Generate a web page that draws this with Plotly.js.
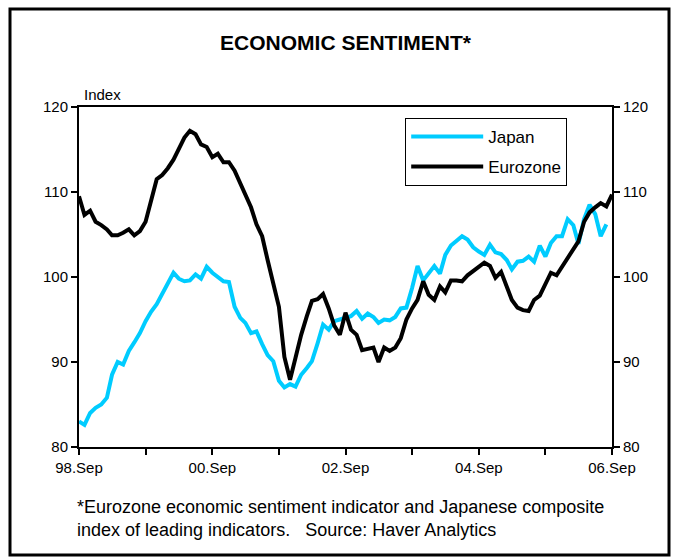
<!DOCTYPE html>
<html>
<head>
<meta charset="utf-8">
<script src="https://cdn.plot.ly/plotly-3.0.1.min.js"></script>
<style>
html,body{margin:0;padding:0;background:#fff;}
#chart{width:678px;height:557px;}
</style>
</head>
<body>
<div id="chart"></div>
<script>
// Monthly observations, Sep 1998 onward
var startYear = 1998, startMonth = 9;
var japan = [
  83.0, 82.6, 84.0, 84.6, 85.0, 85.8, 88.5, 90.0, 89.7, 91.3,
  92.3, 93.4, 94.8, 95.9, 96.8, 98.0, 99.4, 100.5, 99.8, 99.5,
  99.6, 100.3, 99.8, 101.2, 100.5, 100.0, 99.5, 99.4, 96.5, 95.2,
  94.6, 93.4, 93.6, 92.1, 90.8, 90.1, 87.8, 87.0, 87.4, 87.1,
  88.5, 89.3, 90.1, 92.2, 94.4, 93.8, 94.8, 95.0, 95.2, 95.4,
  96.0, 95.1, 95.7, 95.3, 94.6, 95.0, 94.9, 95.3, 96.3, 96.4,
  98.7, 101.3, 99.6, 100.5, 101.3, 100.4, 102.6, 103.7, 104.3, 104.8,
  104.4, 103.5, 103.0, 102.6, 103.8, 102.9, 102.7, 102.0, 100.9, 101.8,
  101.9, 102.4, 101.8, 103.7, 102.4, 104.0, 104.8, 104.8, 106.8, 106.1,
  103.9, 106.8, 108.5, 107.4, 104.8, 106.2
];
var eurozone = [
  109.5, 107.3, 107.8, 106.5, 106.1, 105.6, 104.9, 104.9, 105.2, 105.6,
  104.9, 105.4, 106.5, 109.2, 111.5, 112.0, 112.8, 113.8, 115.0, 116.4,
  117.2, 116.8, 115.6, 115.3, 114.1, 114.5, 113.5, 113.5, 112.5, 111.0,
  109.5, 108.2, 106.2, 104.8, 102.0, 99.0, 96.5, 90.6, 87.9, 90.5,
  93.2, 95.4, 97.2, 97.4, 98.0, 96.3, 94.3, 93.2, 95.8, 93.8,
  93.2, 91.4, 91.5, 91.7, 90.0, 91.7, 91.3, 91.7, 92.8, 95.0,
  96.3, 97.3, 99.5, 97.9, 97.3, 98.9, 98.2, 99.6, 99.6, 99.5,
  100.2, 100.7, 101.3, 101.7, 101.3, 99.9, 100.6, 98.8, 97.3, 96.4,
  96.1, 96.0, 97.3, 97.8, 99.2, 100.5, 100.2, 101.2, 102.2, 103.2,
  104.2, 106.5, 107.6, 108.2, 108.7, 108.3, 109.7
];
var tickDates = ['1998-09-01','1999-09-01','2000-09-01','2001-09-01','2002-09-01','2003-09-01','2004-09-01','2005-09-01','2006-09-01'];
var tickLabels = ['98.Sep','','00.Sep','','02.Sep','','04.Sep','','06.Sep'];
var yTicks = [80, 90, 100, 110, 120];
var seriesNames = ['Japan', 'Eurozone'];

function monthDates(n){
  var out = [];
  for (var k = 0; k < n; k++){
    var m = startMonth - 1 + k;
    var y = startYear + Math.floor(m / 12);
    var mm = (m % 12) + 1;
    out.push(y + '-' + (mm < 10 ? '0' + mm : mm) + '-01');
  }
  return out;
}

var FONT = 'Liberation Sans, Arial, sans-serif';

var traces = [
  {x: monthDates(japan.length), y: japan, name: seriesNames[0], type: 'scatter', mode: 'lines',
   legendgroup: 'a', line: {color: '#00CCFF', width: 4}, xaxis: 'x', yaxis: 'y'},
  {x: monthDates(eurozone.length), y: eurozone, name: seriesNames[1], type: 'scatter', mode: 'lines',
   legendgroup: 'b', line: {color: '#000000', width: 4}, xaxis: 'x', yaxis: 'y2'}
];

var layout = {
  width: 678, height: 557,
  margin: {l: 79, r: 66, t: 107, b: 110},
  paper_bgcolor: '#fff', plot_bgcolor: '#fff',
  font: {family: FONT, size: 15, color: '#000'},
  title: {text: '<b>ECONOMIC SENTIMENT*</b>', font: {family: FONT, size: 21, color: '#000'},
          x: 0.5, xanchor: 'center', xref: 'paper', y: 1 - 43/557, yanchor: 'middle'},
  showlegend: true,
  legend: {x: 0.612, y: 0.968, xanchor: 'left', yanchor: 'top',
           bordercolor: '#000', borderwidth: 1, bgcolor: '#fff',
           font: {family: FONT, size: 17, color: '#000'},
           itemwidth: 72, tracegroupgap: 5, traceorder: 'grouped'},
  xaxis: {type: 'date', range: ['1998-09-01', '2006-09-01'],
          tickmode: 'array', tickvals: tickDates, ticktext: tickLabels,
          ticks: 'outside', ticklen: 6, tickwidth: 2, tickcolor: '#000',
          showline: true, linecolor: '#000', linewidth: 2, mirror: true,
          showgrid: false, zeroline: false,
          tickfont: {family: FONT, size: 15, color: '#000'}},
  yaxis: {range: [80, 120], tickmode: 'array', tickvals: yTicks,
          ticks: 'outside', ticklen: 6, tickwidth: 2, tickcolor: '#000',
          showline: true, linecolor: '#000', linewidth: 2,
          showgrid: false, zeroline: false,
          tickfont: {family: FONT, size: 15, color: '#000'}},
  yaxis2: {range: [80, 120], tickmode: 'array', tickvals: yTicks, overlaying: 'y', side: 'right',
          ticks: 'outside', ticklen: 6, tickwidth: 2, tickcolor: '#000',
          showline: true, linecolor: '#000', linewidth: 2,
          showgrid: false, zeroline: false,
          tickfont: {family: FONT, size: 15, color: '#000'}},
  annotations: [
    {text: 'Index', xref: 'paper', yref: 'paper', x: 0.006, y: (447-95)/340,
     xanchor: 'left', yanchor: 'middle', showarrow: false,
     font: {family: FONT, size: 15, color: '#000'}},
    {text: '*Eurozone economic sentiment indicator and Japanese composite<br>index of leading indicators.   Source: Haver Analytics',
     xref: 'paper', yref: 'paper', x: (75-79)/533, y: (447-518)/340,
     xanchor: 'left', yanchor: 'middle', align: 'left', showarrow: false,
     font: {family: FONT, size: 18, color: '#000'}}
  ],
  shapes: [
    {type: 'rect', xref: 'paper', yref: 'paper',
     x0: (10-79)/533, x1: (669-79)/533, y0: (447-555)/340, y1: (447-9)/340,
     line: {color: '#000', width: 3}, fillcolor: 'rgba(0,0,0,0)', layer: 'below'}
  ]
};

Plotly.newPlot('chart', traces, layout, {displayModeBar: false, staticPlot: true});
</script>
</body>
</html>
